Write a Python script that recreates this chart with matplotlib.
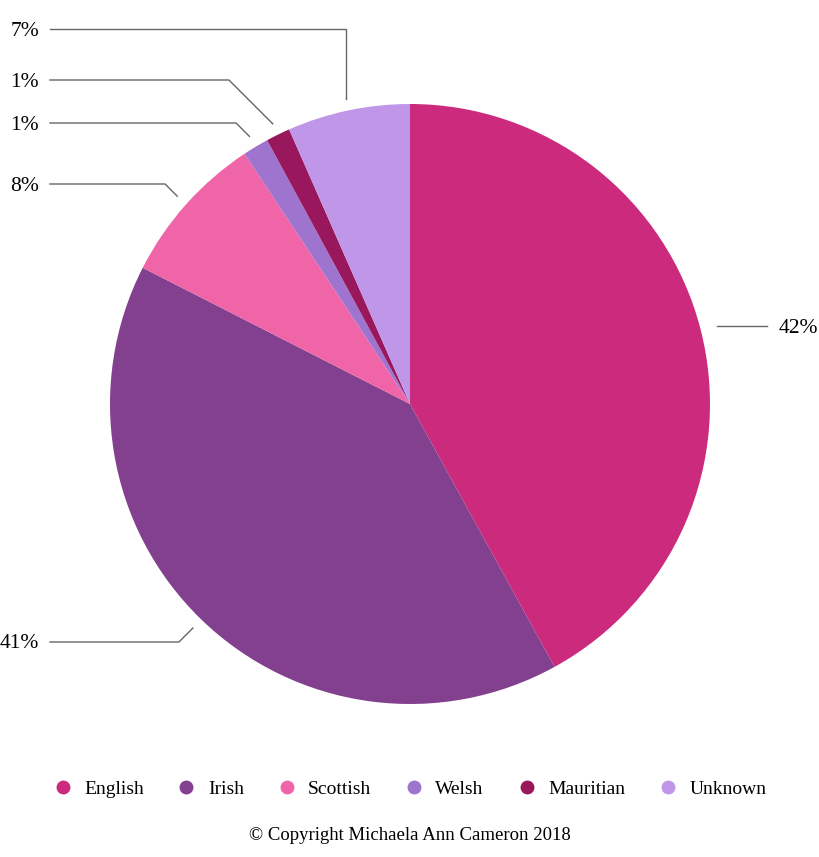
import numpy as np
import matplotlib.pyplot as plt
from matplotlib.lines import Line2D

plt.rcParams['font.family'] = ['Liberation Serif', 'DejaVu Serif']

# Data (share of ancestry, read from the wedges)
categories = ['English', 'Irish', 'Scottish', 'Welsh', 'Mauritian', 'Unknown']
values = [42.0, 40.5, 8.2, 1.4, 1.3, 6.6]
pct_labels = ['42%', '41%', '8%', '1%', '1%', '7%']
colors = ['#CC2A7D', '#83408E', '#F064A8', '#9E74CE', '#99185D', '#BF96E8']

W, H = 819, 857
fig = plt.figure(figsize=(W / 100, H / 100), dpi=100)
ax = fig.add_axes([0, 0, 1, 1])

cx, cy, r = 410, H - 404, 300
ax.pie(values, colors=colors, startangle=90, counterclock=False,
       center=(cx, cy), radius=r, frame=True,
       wedgeprops=dict(linewidth=0))
ax.set_xlim(0, W)
ax.set_ylim(0, H)
ax.set_aspect('equal')
ax.axis('off')

# leader lines: anchor on wedge mid angle, then elbow up to label row
total = sum(values)
cum = np.cumsum([0] + values)
mid = 90 - 360 * (cum[:-1] + np.array(values) / 2) / total
label_y = [None, H - 642, H - 184, H - 123, H - 80, H - 29]
line_col = '#666666'
for i, lab in enumerate(pct_labels):
    a = np.radians(mid[i])
    ax_, ay_ = cx + 312 * np.cos(a), cy + 312 * np.sin(a)
    if i == 0:
        ax.plot([ax_ + 5, ax_ + 55], [ay_, ay_], color=line_col, lw=1)
        ax.text(W - 1, ay_ - 2, lab, ha='right', va='center', fontsize=15.5)
        continue
    ly = label_y[i]
    if i == 5:
        ex = ax_
    else:
        ex = ax_ - abs(ly - ay_)
    ax.plot([ax_, ex, 50], [ay_, ly, ly], color=line_col, lw=1)
    ax.text(39, ly - 2, lab, ha='right', va='center', fontsize=15.5)

handles = [Line2D([], [], marker='o', ls='', markersize=10, markerfacecolor=c,
                  markeredgewidth=0) for c in colors]
fig.legend(handles, categories, loc='center', bbox_to_anchor=(0.5, 1 - 789 / H),
           ncol=6, frameon=False, fontsize=14, handletextpad=0.6,
           columnspacing=1.7, handlelength=1.0)

fig.text(0.5, 1 - 836 / H, '\u00a9 Copyright Michaela Ann Cameron 2018',
         ha='center', va='center', fontsize=13.5)

fig.savefig('out.png', dpi=100)
